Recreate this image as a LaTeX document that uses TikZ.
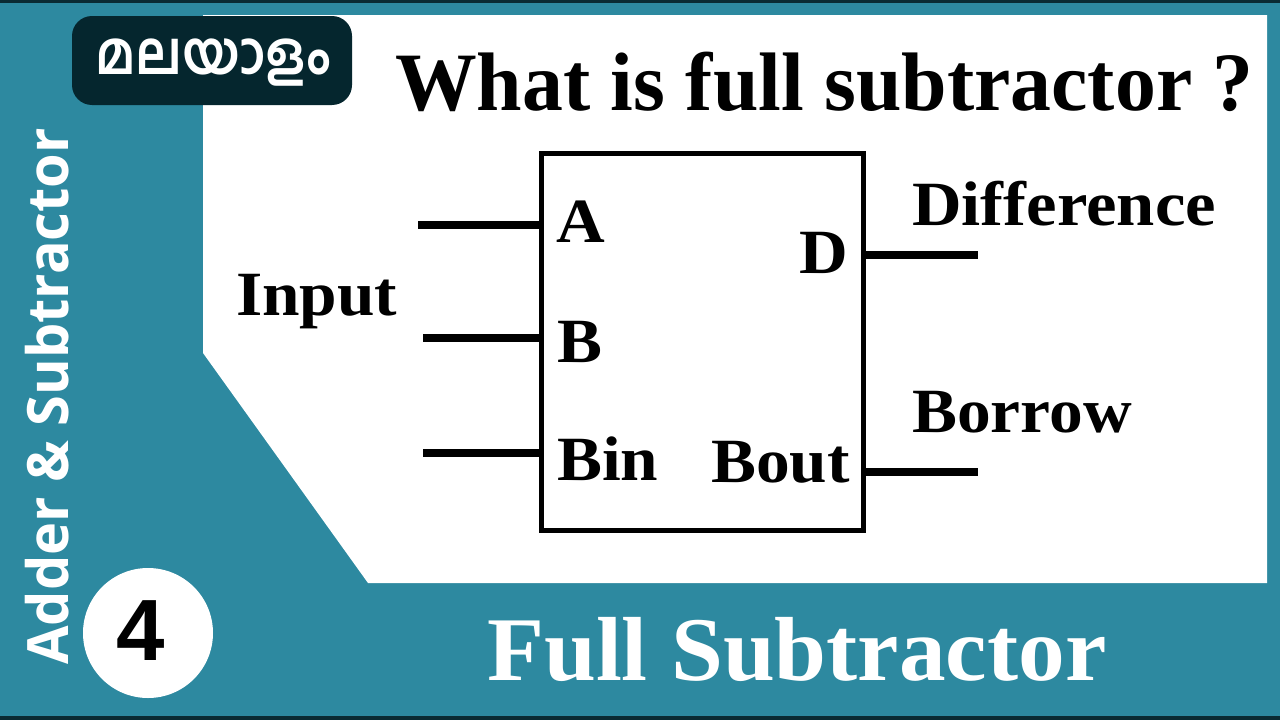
\documentclass[tikz,border=0pt]{standalone}
\usepackage{fontspec}
\usepackage{graphicx}
\setmainfont{Liberation Serif}
\newfontfamily\osans{Open Sans}
\newfontfamily\lsans{Liberation Sans}
\newfontfamily\mlfont[Script=Malayalam]{Hind Kochi}
\definecolor{teal1}{HTML}{2D89A0}
\definecolor{darkbar}{HTML}{0A2B33}
\definecolor{badge}{HTML}{05262E}
\newcommand{\wid}[1]{\scalebox{1.07}[1]{#1}}
\begin{document}
\begin{tikzpicture}[x=1pt,y=-1pt,
  lbl/.style={anchor=base west, inner sep=0pt, font=\fontsize{63}{63}\selectfont\bfseries},
  wire/.style={line width=8.5pt},
  boxline/.style={line width=5pt}]
\useasboundingbox (0,0) rectangle (1280,720);
% background
\fill[teal1] (0,0) rectangle (1280,720);
\fill[darkbar] (0,0) rectangle (1280,3);
\fill[darkbar] (0,716) rectangle (1280,720);
% white panel
\fill[white] (203,15) -- (1267,15) -- (1267,583) -- (368,583) -- (203,353) -- cycle;
% badge
\fill[badge, rounded corners=20pt] (72,16) rectangle (352,105);
\node[inner sep=0pt, text=white, font=\mlfont\bfseries\fontsize{53}{53}\selectfont] (ml) at (213,63) {\scalebox{0.98}[1.12]{മലയാളം}};
% vertical text
\node[rotate=90, anchor=base west, inner sep=0pt, text=white, font=\osans\bfseries\fontsize{57}{57}\selectfont] (side) at (68,665) {\scalebox{0.98}[1]{Adder \& Subtractor}};
% number circle
\fill[white] (148,633) circle (65);
\node[inner sep=0pt, font=\lsans\bfseries\fontsize{87}{87}\selectfont] (num) at (141,631) {4};
% title
\node[anchor=base west, inner sep=0pt, font=\fontsize{83}{83}\selectfont\bfseries] (title) at (395,110) {\scalebox{0.985}[1]{What is full subtractor ?}};
% bottom title
\node[anchor=base west, inner sep=0pt, text=white, font=\fontsize{91}{91}\selectfont\bfseries] (bottom) at (487,680) {\scalebox{1.025}[1]{Full Subtractor}};
% block
\draw[boxline] (541,153) rectangle (863,530);
\coordinate (pa) at (541,225);
\coordinate (pb) at (541,338);
\coordinate (pc) at (541,453);
\coordinate (pd) at (861,255);
\coordinate (pe) at (861,472);
\coordinate (ea) at (418,225);
\coordinate (eb) at (423,338);
\coordinate (ec) at (423,453);
\coordinate (ed) at (978,255);
\coordinate (ee) at (978,472);
\draw[wire] (ea) -- (pa);
\draw[wire] (eb) -- (pb);
\draw[wire] (ec) -- (pc);
\draw[wire] (pd) -- (ed);
\draw[wire] (pe) -- (ee);
% labels
\node[lbl] (la) at (556,242) {\wid{A}};
\node[lbl] (lb) at (557,362) {\wid{B}};
\node[lbl] (lbin) at (557,480) {\wid{Bin}};
\node[lbl] (ld) at (799,273) {\wid{D}};
\node[lbl] (lbout) at (711,482) {\wid{Bout}};
\node[lbl] (linput) at (236,315) {\wid{Input}};
\node[lbl] (ldiff) at (912,225) {\scalebox{1.09}[1]{Difference}};
\node[lbl] (lborrow) at (912,432) {\wid{Borrow}};
\end{tikzpicture}
\end{document}
